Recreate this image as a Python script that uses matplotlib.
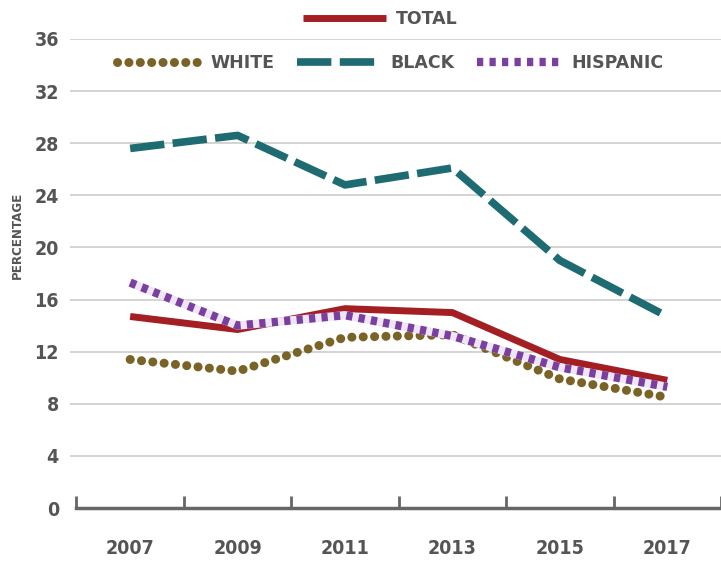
import matplotlib.pyplot as plt

# datos
years = [2007, 2009, 2011, 2013, 2015, 2017]
total = [14.7, 13.7, 15.3, 15.0, 11.4, 9.8]
white = [11.4, 10.5, 13.1, 13.3, 9.9, 8.5]
black = [27.6, 28.6, 24.8, 26.1, 19.0, 14.7]
hispanic = [17.3, 14.0, 14.8, 13.2, 10.8, 9.3]
yticks = [0, 4, 8, 12, 16, 20, 24, 28, 32, 36]

gris = '#555555'
fuente = dict(family='DejaVu Sans', stretch='condensed', weight='bold')

fig = plt.figure(figsize=(7.21, 5.62), dpi=100)
ax = fig.add_axes([70 / 721, 54 / 562, 651 / 721, 469 / 562])

ax.set_xlim(2005.88, 2018.0)
ax.set_ylim(0, 36)

for y in yticks[1:]:
    ax.axhline(y, color='#c8c8c8', lw=1.1, zorder=0)

l_white, = ax.plot(years, white, color='#7a6327', lw=6.5, dashes=(0.01, 1.25),
                   dash_capstyle='round', zorder=2)
l_total, = ax.plot(years, total, color='#a31f24', lw=5, zorder=3,
                   solid_capstyle='butt')
ax.plot(years, hispanic, color='#efe6f5', lw=6, zorder=4, solid_capstyle='butt')
l_hisp, = ax.plot(years, hispanic, color='#7b3fa0', lw=6, dashes=(0.75, 0.75),
                  zorder=4)
l_black, = ax.plot(years, black, color='#1f6b72', lw=5.5, dashes=(4.5, 1.1),
                   zorder=5)

for s in ['top', 'right', 'left']:
    ax.spines[s].set_visible(False)
ax.spines['bottom'].set_bounds(2006, 2018)
ax.spines['bottom'].set_color('#666666')
ax.spines['bottom'].set_linewidth(2.5)

ax.set_xticks(years)
ax.set_xticks(range(2006, 2019, 2), minor=True)
ax.tick_params(axis='x', which='major', length=0, pad=22)
ax.tick_params(axis='x', which='minor', length=9, width=2, direction='in',
               color='#666666')
ax.set_xticklabels([str(y) for y in years], fontsize=14, color=gris, **fuente)

ax.set_yticks(yticks)
ax.set_yticklabels([str(y) for y in yticks], fontsize=14, color=gris, **fuente)
ax.tick_params(axis='y', length=0, pad=8)

fig.text(17 / 721, 1 - 235 / 562, 'PERCENTAGE', rotation=90, ha='center',
         va='center', fontsize=9.5, color=gris, **fuente)

# leyendas
leg1 = fig.legend([l_total], ['TOTAL'], loc='center left',
                  bbox_to_anchor=(287 / 721, 1 - 19 / 562), frameon=False,
                  handlelength=4.8, handletextpad=0.6, prop={'weight': 'bold', 'size': 12.5})
leg2 = fig.legend([l_white, l_black, l_hisp], ['WHITE', 'BLACK', 'HISPANIC'],
                  loc='center left', bbox_to_anchor=(101 / 721, 1 - 63 / 562),
                  ncol=3, frameon=False, handlelength=4.8, handletextpad=0.6,
                  columnspacing=1.3, prop={'weight': 'bold', 'size': 12.5})
for lg in (leg1, leg2):
    for t in lg.get_texts():
        t.set_color(gris)

fig.savefig('out.png', dpi=100)
